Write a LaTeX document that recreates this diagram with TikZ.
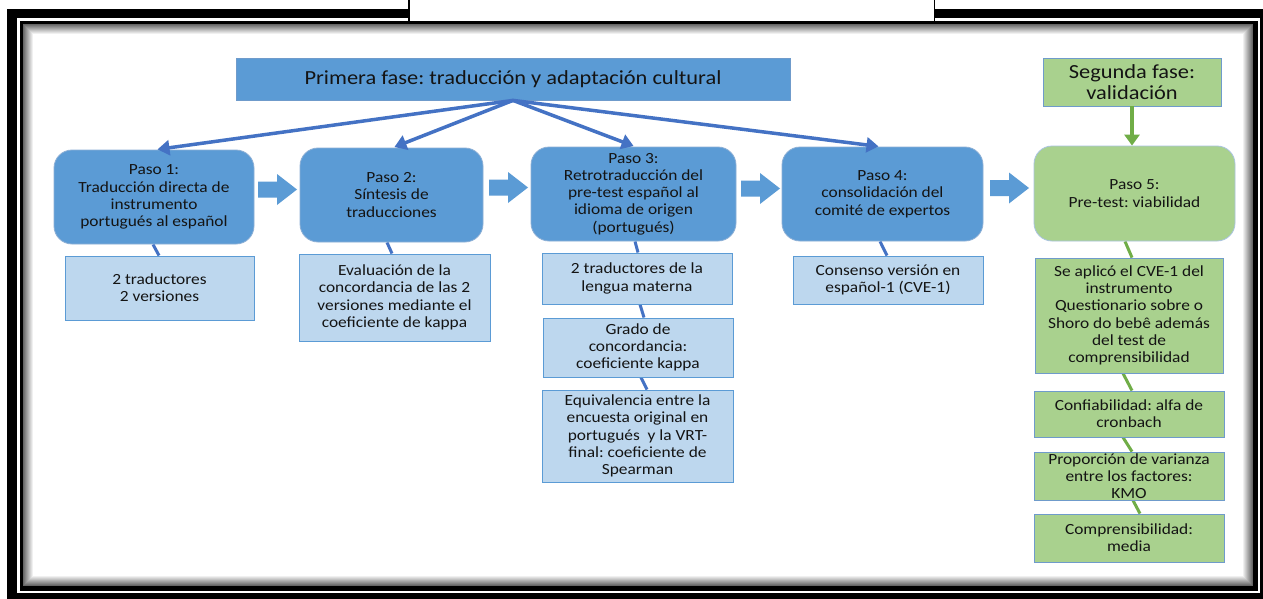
\documentclass[tikz,border=0pt]{standalone}
\usepackage{fontspec}
\setmainfont{Carlito}[FakeStretch=1.12]
\frenchspacing
\usetikzlibrary{arrows.meta,calc}
\definecolor{stepblue}{HTML}{5B9BD5}
\definecolor{lightblue}{HTML}{BDD7EE}
\definecolor{linkblue}{HTML}{4472C4}
\definecolor{stepgreen}{HTML}{A9D18E}
\definecolor{linkgreen}{HTML}{70AD47}
\definecolor{edgeblue}{HTML}{6F9BCB}
\definecolor{txt}{HTML}{141414}
\pgfdeclarelayer{bg}\pgfdeclarelayer{conn}\pgfsetlayers{bg,conn,main}
\tikzset{
  stepbox/.style={rectangle, rounded corners=18pt, fill=stepblue, draw=edgeblue!80, line width=0.8pt, inner sep=0pt, align=center},
  greenstep/.style={rectangle, rounded corners=18pt, fill=stepgreen, draw=edgeblue!60, line width=0.8pt, inner sep=0pt, align=center},
  subbox/.style={rectangle, fill=lightblue, draw=stepblue, line width=1pt, inner sep=0pt, align=center},
  greensub/.style={rectangle, fill=stepgreen, draw=edgeblue, line width=0.8pt, inner sep=0pt, align=center},
  phasebox/.style={rectangle, fill=stepblue, draw=edgeblue, line width=0.8pt, inner sep=0pt, align=center, font=\fontsize{20}{21}\selectfont},
  greenphase/.style={rectangle, fill=stepgreen, draw=edgeblue, line width=0.8pt, inner sep=0pt, align=center, font=\fontsize{20}{21}\selectfont},
  fan/.style={draw=linkblue, line width=3.5pt, -{Triangle[width=15pt,length=12pt]}, shorten >=1.5pt},
  gfan/.style={draw=linkgreen, line width=3.5pt, -{Triangle[width=15pt,length=11pt]}},
  bline/.style={draw=linkblue, line width=3pt},
  gline/.style={draw=linkgreen, line width=3pt},
  barrow/.style={fill=stepblue},
}
\newcommand\blockarrow[2]{%
  \fill[barrow] (#1,#2-8) -- (#1+19,#2-8) -- (#1+19,#2-15.5) -- (#1+39,#2) -- (#1+19,#2+15.5) -- (#1+19,#2+8) -- (#1,#2+8) -- cycle;}
\begin{document}
\begin{tikzpicture}[x=1pt, y=-1pt, font=\fontsize{15.5}{17.3}\selectfont, text=txt]
\useasboundingbox (0,0) rectangle (1263,599);
% frame
\begin{pgfonlayer}{bg}
  \fill[white] (-5,-5) rectangle (1270,605);
  \fill[black] (7,9) rectangle (1290,620);
  \fill[white] (17,18) rectangle (1260,593);
  \fill[black] (20,21) rectangle (1258,591);
  \fill[white] (23,24) rectangle (1253,586);
  \foreach \i in {0,...,9} {
    \pgfmathsetmacro\g{60-6*\i}
    \draw[black!\g, line width=1pt] (23.5+\i,24.5+\i) rectangle (1252.5-\i,585.5-\i);
  }
  \fill[white] (409.5,-2) rectangle (934,21);
  \draw[black, line width=1.5pt] (408.75,-2) -- (408.75,22);
  \draw[black, line width=1.5pt] (934.25,-2) -- (934.25,22);
\end{pgfonlayer}

% phases
\node[phasebox, minimum width=554pt, minimum height=42pt] (ph1) at (513,79) {Primera fase: traducción y adaptación cultural};
\node[greenphase, minimum width=178pt, minimum height=48pt] (seg) at (1132,82) {Segunda fase:\\validación};

% steps
\node[stepbox, minimum width=200pt, minimum height=94pt] (p1) at (154,197) {Paso 1:\\Traducción directa de\\instrumento\\portugués al español};
\node[stepbox, minimum width=183pt, minimum height=94pt] (p2) at (391.5,195) {Paso 2:\\Síntesis de\\traducciones};
\node[stepbox, minimum width=205pt, minimum height=94pt] (p3) at (633.5,194) {Paso 3:\\Retrotraducción del\\pre-test español al\\idioma de origen\\(portugués)};
\node[stepbox, minimum width=201pt, minimum height=94pt] (p4) at (882.5,194) {Paso 4:\\consolidación del\\comité de expertos};
\node[greenstep, minimum width=201pt, minimum height=95pt] (p5) at (1134.5,193.5) {Paso 5:\\Pre-test: viabilidad};

% block arrows
\blockarrow{258}{189.5}
\blockarrow{489}{187.5}
\blockarrow{741}{188.5}
\blockarrow{990}{188}

% sub boxes
\node[subbox, minimum width=189pt, minimum height=64pt] (s1) at (159.5,288) {2 traductores\\2 versiones};
\node[subbox, minimum width=191pt, minimum height=87pt] (s2) at (394.5,297.5) {Evaluación de la\\concordancia de las 2\\versiones mediante el\\coeficiente de kappa};
\node[subbox, minimum width=190pt, minimum height=51pt] (s3a) at (637,278.5) {2 traductores de la\\lengua materna};
\node[subbox, minimum width=190pt, minimum height=59pt] (s3b) at (638,347.5) {Grado de\\concordancia:\\coeficiente kappa};
\node[subbox, minimum width=191pt, minimum height=92pt] (s3c) at (637.5,436) {Equivalencia entre la\\encuesta original en\\portugués\ \ y la VRT-\\final: coeficiente de\\Spearman};
\node[subbox, minimum width=190pt, minimum height=48pt] (s4) at (888,280) {Consenso versión en\\español-1 (CVE-1)};
\node[greensub, minimum width=188pt, minimum height=115pt] (s5a) at (1129,315.5) {Se aplicó el CVE-1 del\\instrumento\\Questionario sobre o\\Shoro do bebê además\\del test de\\comprensibilidad};
\node[greensub, minimum width=190pt, minimum height=46pt] (s5b) at (1129,414) {Confiabilidad: alfa de\\cronbach};
\node[greensub, minimum width=190pt, minimum height=48pt] (s5c) at (1129,476) {Proporción de varianza\\entre los factores:\\KMO};
\node[greensub, minimum width=190pt, minimum height=48pt] (s5d) at (1129,538) {Comprensibilidad:\\media};

% connectors
\begin{pgfonlayer}{conn}
  \draw[bline] ([xshift=-1pt]p1.south) -- ([xshift=-0.5pt]s1.north);
  \draw[bline] ([xshift=-4.5pt]p2.south) -- ([xshift=-2.5pt]s2.north);
  \draw[bline] ([xshift=1.5pt]p3.south) -- ([xshift=1pt]s3a.north);
  \draw[bline] ([xshift=3pt]s3a.south) -- ([xshift=6pt]s3b.north);
  \draw[bline] ([xshift=3pt]s3b.south) -- ([xshift=9.5pt]s3c.north);
  \draw[bline] ([xshift=-2.5pt]p4.south) -- ([xshift=-1pt]s4.north);
  \draw[gline] ([xshift=-9.5pt]p5.south) -- ([xshift=3pt]s5a.north);
  \draw[gline] ([xshift=-6pt]s5a.south) -- ([xshift=3pt]s5b.north);
  \draw[gline] ([xshift=-6pt]s5b.south) -- ([xshift=3pt]s5c.north);
  \draw[gline] ([xshift=4pt]s5c.south) -- ([xshift=11pt]s5d.north);
\end{pgfonlayer}

% fan arrows
\draw[fan] (ph1.south) -- ([xshift=2pt]p1.north);
\draw[fan] (ph1.south) -- ([xshift=1.5pt]p2.north);
\draw[fan] (ph1.south) -- ([xshift=1.5pt]p3.north);
\draw[fan] (ph1.south) -- ([xshift=-2.5pt]p4.north);
\draw[gfan] (seg.south) -- (seg.south |- p5.north);
\end{tikzpicture}
\end{document}
